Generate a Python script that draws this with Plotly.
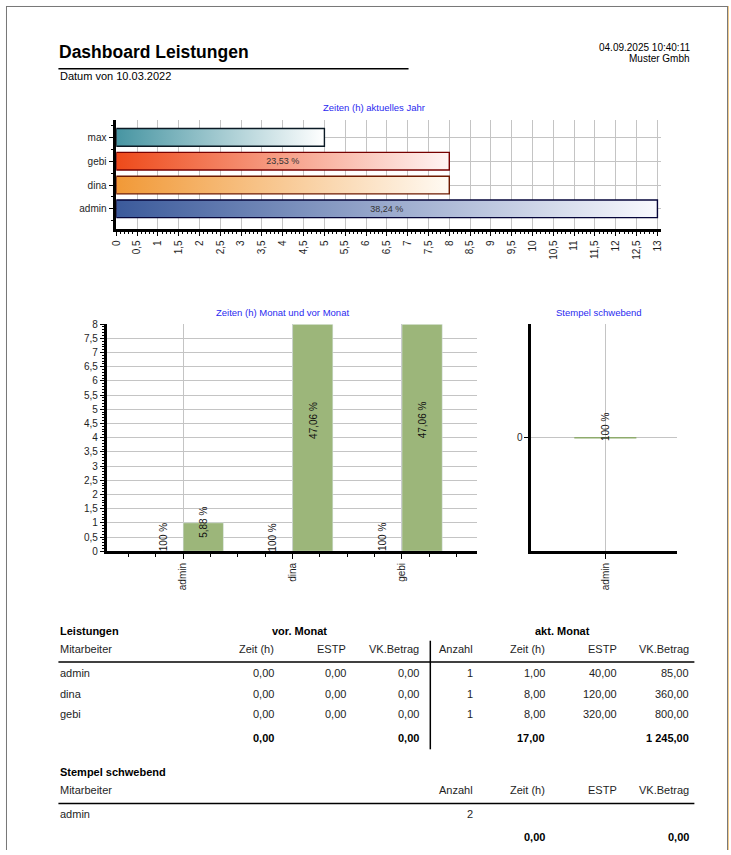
import plotly.graph_objects as go

W, H = 731, 855


def P(x):
    return x / W


def Q(y):
    return 1 - y / H


FONT = "Liberation Sans"
TXT = "#1e1e1e"
BLUE = "#2a2af0"
GRID = "#c4c4c4"

# ---------------- data ----------------
# chart 1: Zeiten (h) aktuelles Jahr
year_names = ["admin", "dina", "gebi", "max"]
year_hours = [13, 8, 8, 5]
year_labels = ["38,24 %", "", "23,53 %", ""]

# chart 2: Zeiten (h) Monat und vor Monat
month_names = ["admin", "dina", "gebi"]
prev_month_hours = [0, 0, 0]
month_hours = [1, 8, 8]
prev_month_labels = ["100 %", "100 %", "100 %"]
month_labels = ["5,88 %", "47,06 %", "47,06 %"]

# chart 3: Stempel schwebend
pending_names = ["admin"]
pending_hours = [0]
pending_labels = ["100 %"]

# table: Leistungen
employees = ["admin", "dina", "gebi"]
prev_zeit = [0.0, 0.0, 0.0]
prev_estp = [0.0, 0.0, 0.0]
prev_vk = [0.0, 0.0, 0.0]
akt_anzahl = [1, 1, 1]
akt_zeit = [1.0, 8.0, 8.0]
akt_estp = [40.0, 120.0, 320.0]
akt_vk = [85.0, 360.0, 800.0]

# table: Stempel schwebend
pending_employees = ["admin"]
pending_count = [2]
pending_zeit = [0.0]
pending_vk = [0.0]

# styles (kept separate from data)
year_grad_start = ["#3b5a9b", "#f19937", "#ee4a1a", "#4795a2"]
year_grad_end = ["#f8f9fe", "#fffaf3", "#fff4f4", "#ffffff"]
year_outline = ["#05053a", "#6e1a00", "#760000", "#0b1a25"]
GREEN = "#9cb67a"


def de(v):
    s = f"{v:,.2f}"
    return s.replace(",", " ").replace(".", ",")


fig = go.Figure()

# ---------------- chart 1 ----------------
half = 0.37
for i, (v, c0, c1) in enumerate(zip(year_hours, year_grad_start, year_grad_end)):
    fig.add_trace(go.Scatter(
        x=[0, v, v, 0, 0], y=[i - half, i - half, i + half, i + half, i - half],
        mode="lines", line=dict(width=0), fill="toself",
        fillgradient=dict(type="horizontal", colorscale=[[0, c0], [1, c1]]),
        hoverinfo="skip", showlegend=False, xaxis="x", yaxis="y"))

year_idx = list(range(len(year_names)))
fig.add_trace(go.Bar(
    x=year_hours, y=year_idx, orientation="h", width=2 * half,
    marker=dict(color="rgba(0,0,0,0)", line=dict(color=year_outline, width=1.4)),
    text=year_labels, textposition="inside", insidetextanchor="middle",
    textangle=0, constraintext="none",
    insidetextfont=dict(family=FONT, size=9, color="#333333"),
    showlegend=False, xaxis="x4", yaxis="y4"))

# ---------------- chart 2 ----------------
m_idx = list(range(len(month_names)))
BW = 0.368
fig.add_trace(go.Bar(x=m_idx, y=prev_month_hours, width=BW, offset=-BW,
                     marker=dict(color=GREEN), showlegend=False,
                     xaxis="x2", yaxis="y2"))
fig.add_trace(go.Bar(x=m_idx, y=month_hours, width=BW, offset=0,
                     marker=dict(color=GREEN), showlegend=False,
                     xaxis="x2", yaxis="y2"))

# ---------------- chart 3 ----------------
fig.add_trace(go.Bar(x=list(range(len(pending_names))), y=pending_hours, width=0.427,
                     marker=dict(color=GREEN, line=dict(color="#8eab6c", width=1.5)),
                     showlegend=False, xaxis="x3", yaxis="y3"))

tickfont = dict(family=FONT, size=10, color=TXT)
axline = dict(showline=True, linecolor="black", linewidth=2.5, zeroline=False,
              ticks="outside", tickcolor="black", tickwidth=1,
              gridcolor=GRID, gridwidth=1, tickfont=tickfont)

annotations = []
shapes = []

# chart 2 labels
for i in m_idx:
    annotations.append(dict(x=i - BW / 2, y=prev_month_hours[i] / 2, xref="x2", yref="y2",
                            text=prev_month_labels[i], textangle=-90, showarrow=False,
                            xanchor="center", yanchor="bottom", yshift=-2,
                            font=dict(family=FONT, size=10, color="#111")))
    annotations.append(dict(x=i + BW / 2, y=month_hours[i] / 2, xref="x2", yref="y2",
                            text=month_labels[i], textangle=-90, showarrow=False,
                            xanchor="center", yanchor="bottom", yshift=-3,
                            font=dict(family=FONT, size=10, color="#111")))
# chart 3 label
for i, lab in enumerate(pending_labels):
    annotations.append(dict(x=i, y=pending_hours[i], xref="x3", yref="y3",
                            text=lab, textangle=-90, showarrow=False,
                            xanchor="center", yanchor="bottom", yshift=-5,
                            font=dict(family=FONT, size=10, color="#111")))


def ptext(x, y, text, size=11, bold=False, anchor="left", color=TXT, family=FONT):
    t = f"<b>{text}</b>" if bold else text
    annotations.append(dict(x=P(x), y=Q(y), xref="paper", yref="paper", text=t,
                            showarrow=False, xanchor=anchor, yanchor="middle",
                            font=dict(family=family, size=size, color=color)))


# chart titles
ptext(372, 103, "Zeiten (h) aktuelles Jahr", 9.5, anchor="center", color=BLUE)
ptext(280, 310, "Zeiten (h) Monat und vor Monat", 9.5, anchor="center", color=BLUE)
ptext(600, 310.5, "Stempel schwebend", 9.5, anchor="center", color=BLUE)

# header
ptext(52, 47, "Dashboard Leistungen", 17.5, bold=True, color="#000")
ptext(53, 71, "Datum von 10.03.2022", 11, color="#000")
ptext(694, 42, "04.09.2025 10:40:11", 10, anchor="right", color="#000")
ptext(694, 53, "Muster Gmbh", 10, anchor="right", color="#000")


def hline(x0, x1, y, w=1.5, color="black"):
    shapes.append(dict(type="line", xref="paper", yref="paper", x0=P(x0), x1=P(x1),
                       y0=Q(y), y1=Q(y), line=dict(color=color, width=w)))


def vline(x, y0, y1, w=1.5, color="black"):
    shapes.append(dict(type="line", xref="paper", yref="paper", x0=P(x), x1=P(x),
                       y0=Q(y0), y1=Q(y1), line=dict(color=color, width=w)))


hline(53, 407, 63.5, 1.5)

# page border
hline(0, 730, 0.5, 1, "#777777")
vline(0.5, 0, 855, 1, "#777777")
vline(729.5, 0, 855, 1, "#777777")
vline(730.5, 0, 855, 1, "#f2cc8f")

# ---------------- table Leistungen ----------------
prev_cols = [273, 346, 420]
akt_cols = [474, 547, 620, 693]
ptext(53, 633, "Leistungen", 11, bold=True, color="#000")
ptext(297, 633, "vor. Monat", 11, bold=True, anchor="center", color="#000")
ptext(563, 633, "akt. Monat", 11, bold=True, anchor="center", color="#000")
ptext(53, 651, "Mitarbeiter", 11)
for x, lab in zip(prev_cols, ["Zeit (h)", "ESTP", "VK.Betrag"]):
    ptext(x, 651, lab, 11, anchor="right")
for x, lab in zip(akt_cols, ["Anzahl", "Zeit (h)", "ESTP", "VK.Betrag"]):
    ptext(x, 651, lab, 11, anchor="right")
hline(53, 696, 664.5, 1.5)
vline(429, 643, 753, 1.5)

row_y = [676, 696.5, 717]
for k, name in enumerate(employees):
    y = row_y[k]
    ptext(53, y, name, 11)
    for x, v in zip(prev_cols, [prev_zeit[k], prev_estp[k], prev_vk[k]]):
        ptext(x, y, de(v), 11, anchor="right")
    ptext(akt_cols[0], y, str(akt_anzahl[k]), 11, anchor="right")
    for x, v in zip(akt_cols[1:], [akt_zeit[k], akt_estp[k], akt_vk[k]]):
        ptext(x, y, de(v), 11, anchor="right")
ty = 741.5
ptext(prev_cols[0], ty, de(sum(prev_zeit)), 11, bold=True, anchor="right", color="#000")
ptext(prev_cols[2], ty, de(sum(prev_vk)), 11, bold=True, anchor="right", color="#000")
ptext(akt_cols[1], ty, de(sum(akt_zeit)), 11, bold=True, anchor="right", color="#000")
ptext(akt_cols[3], ty, de(sum(akt_vk)), 11, bold=True, anchor="right", color="#000")

# ---------------- table Stempel schwebend ----------------
ptext(53, 775.5, "Stempel schwebend", 11, bold=True, color="#000")
ptext(53, 794.5, "Mitarbeiter", 11)
for x, lab in zip(akt_cols, ["Anzahl", "Zeit (h)", "ESTP", "VK.Betrag"]):
    ptext(x, 794.5, lab, 11, anchor="right")
hline(53, 696, 808, 1.5)
for k, name in enumerate(pending_employees):
    ptext(53, 818.5, name, 11)
    ptext(akt_cols[0], 818.5, str(pending_count[k]), 11, anchor="right")
ptext(akt_cols[1], 841.5, de(sum(pending_zeit)), 11, bold=True, anchor="right", color="#000")
ptext(akt_cols[3], 841.5, de(sum(pending_vk)), 11, bold=True, anchor="right", color="#000")

y1_range = [-0.83, 3.75]
x1_range = [0, 13.08]

fig.update_layout(
    width=W, height=H, margin=dict(l=0, r=0, t=0, b=0),
    paper_bgcolor="white", plot_bgcolor="white",
    separators=", ", showlegend=False, barmode="overlay",
    font=dict(family=FONT, size=10, color=TXT),
    xaxis=dict(domain=[P(111.5), P(662)], range=x1_range, anchor="y",
               tick0=0, dtick=0.5, tickangle=-90, ticklen=5, showgrid=True,
               minor=dict(tick0=0, dtick=0.1, ticklen=3, ticks="outside",
                          tickcolor="black", showgrid=False),
               **axline),
    yaxis=dict(domain=[Q(225.5), Q(115)], range=y1_range, anchor="x",
               tickvals=year_idx, ticktext=year_names, ticklen=5, showgrid=True,
               minor=dict(tick0=0, dtick=0.5, ticklen=3, ticks="outside",
                          tickcolor="black", showgrid=False),
               **axline),
    xaxis4=dict(overlaying="x", anchor="y4", range=x1_range, visible=False),
    yaxis4=dict(overlaying="y", anchor="x4", range=y1_range, visible=False),
    xaxis2=dict(domain=[P(101.7), P(476.7)], range=[-0.70, 2.69], anchor="y2",
                tickvals=m_idx, ticktext=month_names, tickangle=-90, ticklen=5,
                showgrid=True,
                minor=dict(tick0=0, dtick=0.25, ticklen=3, ticks="outside",
                           tickcolor="black", showgrid=False),
                **axline),
    yaxis2=dict(domain=[Q(552.3), Q(322.3)], range=[0, 8], anchor="x2",
                tick0=0, dtick=0.5, ticklen=4, showgrid=True,
                minor=dict(tick0=0, dtick=0.1, ticklen=2, ticks="outside",
                           tickcolor="black", showgrid=False),
                **axline),
    xaxis3=dict(domain=[P(531), P(678)], range=[-0.51, 0.49], anchor="y3",
                tickvals=[0], ticktext=pending_names, tickangle=-90, ticklen=5,
                showgrid=True, **axline),
    yaxis3=dict(domain=[Q(552.3), Q(322.3)], range=[-1, 1], anchor="x3",
                tickvals=[0], ticklen=4, showgrid=True, **axline),
    annotations=annotations, shapes=shapes,
)

fig.write_html(
    "out.html",
    config={"displayModeBar": False},
    post_script="document.documentElement.style.margin='0';"
                "document.body.style.margin='0';"
                "document.body.style.padding='0';"
                "document.body.style.overflow='hidden';",
)
